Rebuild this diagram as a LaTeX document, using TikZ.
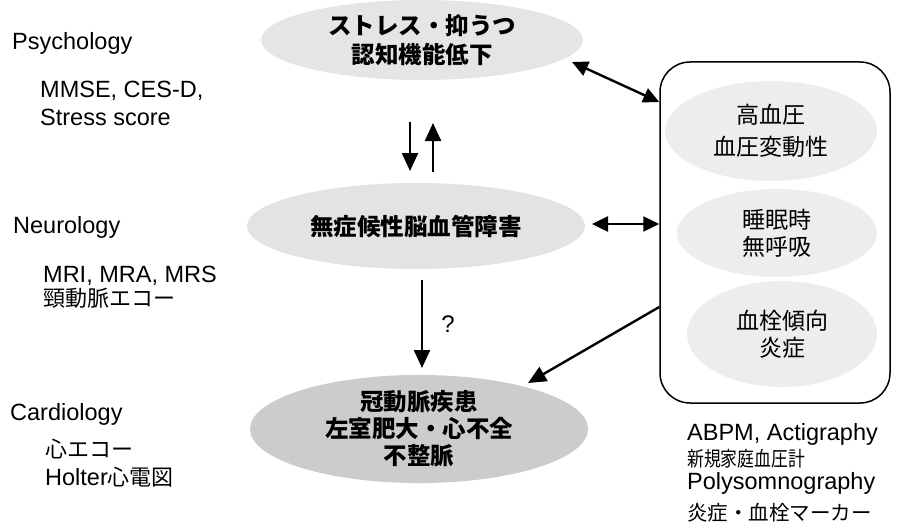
\documentclass[tikz,border=0pt]{standalone}
\usepackage{fontspec}
\setmainfont{Liberation Sans}
\newfontfamily\jp{Noto Sans CJK JP}
\newfontfamily\jpn[FakeStretch=0.82]{Noto Sans CJK JP}
\usetikzlibrary{arrows.meta,shapes.geometric}
\definecolor{headgray}{gray}{0.3}
\begin{document}
\begin{tikzpicture}[x=1pt,y=-1pt,
  lbl/.style={anchor=base west,inner sep=0pt,font=\fontsize{23.5}{27}\selectfont},
  jlbl/.style={anchor=base west,inner sep=0pt,font=\jp\fontsize{22}{26}\selectfont},
  ell/.style={ellipse,draw=none,inner sep=0pt,align=center},
  etext/.style={font=\jp\bfseries\fontsize{23.5}{#1}\selectfont},
  btext/.style={font=\jp\fontsize{23}{#1}\selectfont},
  arr/.style={draw=black,line width=2.4pt,-{Triangle[length=18pt,width=16pt]}},
  dbl/.style={draw=black,line width=2.4pt,{Triangle[length=16pt,width=15pt]}-{Triangle[length=16pt,width=15pt]}},
]
\useasboundingbox (0,0) rectangle (897,527);

% central ellipses
\node[ell,fill=gray!20,minimum width=322pt,minimum height=80pt,etext=29pt] (e1) at (422,40) {ストレス・抑うつ\\認知機能低下};
\node[ell,fill=gray!22,minimum width=338pt,minimum height=86pt,etext=29pt] (e2) at (416,226) {無症候性脳血管障害};
\node[ell,fill=gray!40,minimum width=338pt,minimum height=106pt,etext=27pt] (e3) at (419,429) {冠動脈疾患\\左室肥大・心不全\\不整脈};

% right box
\node[draw,line width=1.5pt,rounded corners=30pt,minimum width=230pt,minimum height=341pt,inner sep=0pt] (box) at (775,232.5) {};
\node[ell,fill=gray!14,minimum width=212pt,minimum height=100pt,btext=32pt] (b1) at (771,131) {高血圧\\血圧変動性};
\node[ell,fill=gray!14,minimum width=200pt,minimum height=88pt,btext=27pt] (b2) at (777,233) {睡眠時\\無呼吸};
\node[ell,fill=gray!14,minimum width=190pt,minimum height=106pt,btext=27pt] (b3) at (782,334) {血栓傾向\\炎症};

% arrows
\coordinate (d1s) at (410,122); \coordinate (d1e) at (410,171);
\coordinate (u1s) at (433,172); \coordinate (u1e) at (433,123);
\coordinate (d2s) at (422,280); \coordinate (d2e) at (422,368);
\draw[arr] (d1s) -- (d1e);
\draw[arr] (u1s) -- (u1e);
\draw[arr] (d2s) -- (d2e);
\node[font=\fontsize{24}{27}\selectfont,inner sep=0pt] (q) at (448,324) {?};

\coordinate (t1s) at (572,62);
\draw[dbl] (t1s) -- (box.west |- {0,102});
\coordinate (m1) at (592,224);
\draw[dbl] (m1) -- (box.west |- m1);
\coordinate (c1e) at (528,383);
\draw[arr] (box.west |- {0,307}) -- (c1e);

% left labels
\node[lbl] (psy) at (12,50) {Psychology};
\node[lbl] (psy1) at (40,98) {MMSE, CES-D,};
\node[lbl] (psy2) at (40,125) {Stress score};
\node[lbl] (neu) at (13,233) {Neurology};
\node[lbl] (neu1) at (43,282) {MRI, MRA, MRS};
\node[jlbl] (neu2) at (43,306) {頸動脈エコー};
\node[lbl] (car) at (10,420) {Cardiology};
\node[jlbl] (car1) at (45,457) {心エコー};
\node[lbl] (car2) at (45,485) {Holter{\jp\fontsize{22}{26}\selectfont 心電図}};

% right bottom labels
\node[lbl] (r1) at (687,440) {ABPM, Actigraphy};
\node[jlbl,font=\jpn\fontsize{20.5}{24}\selectfont] (r2) at (687,466) {新規家庭血圧計};
\node[lbl] (r3) at (687,489) {Polysomnography};
\node[jlbl,font=\jp\fontsize{20.5}{24}\selectfont] (r4) at (687,520) {炎症・血栓マーカー};
\end{tikzpicture}
\end{document}
